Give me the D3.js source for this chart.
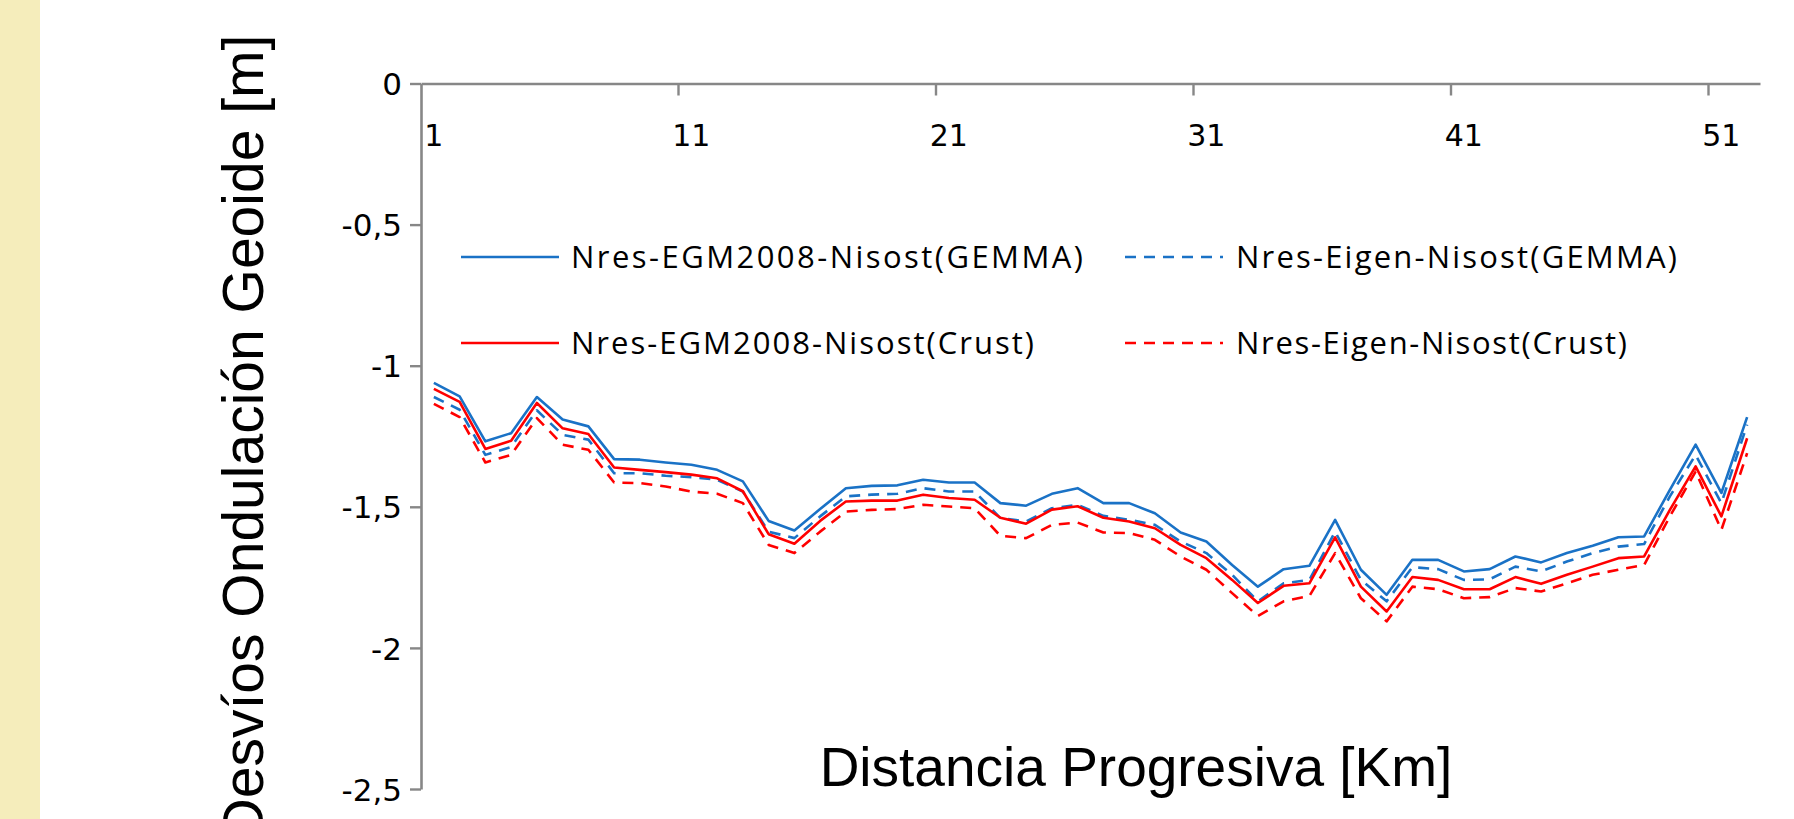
<!DOCTYPE html>
<html><head><meta charset="utf-8">
<script src="https://cdn.jsdelivr.net/npm/d3@7"></script>
<style>html,body{margin:0;padding:0;background:#fff;overflow:hidden}</style>
</head><body>
<svg id="chart" width="1794" height="819"></svg>
<script>
const categories = [1,2,3,4,5,6,7,8,9,10,11,12,13,14,15,16,17,18,19,20,21,22,23,24,25,26,27,28,29,30,31,32,33,34,35,36,37,38,39,40,41,42,43,44,45,46,47,48,49,50,51,52];
const xTickCats = [1,11,21,31,41,51];
const yTicks = [0,-0.5,-1,-1.5,-2,-2.5];
const yTickLabels = ["0","-0,5","-1","-1,5","-2","-2,5"];

const egmGemma = [-1.061,-1.109,-1.268,-1.239,-1.111,-1.191,-1.215,-1.331,-1.333,-1.343,
  -1.351,-1.369,-1.410,-1.550,-1.584,-1.508,-1.434,-1.426,-1.424,-1.404,
  -1.414,-1.414,-1.487,-1.496,-1.454,-1.434,-1.487,-1.487,-1.523,-1.591,
  -1.623,-1.706,-1.783,-1.721,-1.709,-1.546,-1.723,-1.812,-1.688,-1.688,
  -1.729,-1.721,-1.676,-1.697,-1.664,-1.638,-1.608,-1.605,-1.440,-1.280,
  -1.451,-1.182];
const eigenGemma = [-1.111,-1.156,-1.316,-1.288,-1.158,-1.245,-1.262,-1.381,-1.381,-1.390,
  -1.395,-1.404,-1.446,-1.588,-1.611,-1.534,-1.463,-1.457,-1.454,-1.434,
  -1.446,-1.446,-1.540,-1.552,-1.505,-1.493,-1.532,-1.546,-1.564,-1.623,
  -1.664,-1.741,-1.835,-1.771,-1.759,-1.588,-1.759,-1.835,-1.714,-1.721,
  -1.759,-1.757,-1.712,-1.729,-1.694,-1.664,-1.641,-1.632,-1.463,-1.316,
  -1.487,-1.209];
const egmCrust = [-1.082,-1.128,-1.295,-1.266,-1.132,-1.222,-1.242,-1.361,-1.369,-1.377,
  -1.386,-1.399,-1.445,-1.597,-1.631,-1.550,-1.481,-1.478,-1.478,-1.457,
  -1.469,-1.475,-1.539,-1.560,-1.510,-1.498,-1.539,-1.552,-1.576,-1.635,
  -1.682,-1.759,-1.841,-1.780,-1.771,-1.608,-1.783,-1.871,-1.749,-1.759,
  -1.792,-1.792,-1.749,-1.773,-1.741,-1.712,-1.682,-1.676,-1.511,-1.357,
  -1.534,-1.257];
const eigenCrust = [-1.135,-1.182,-1.343,-1.316,-1.186,-1.280,-1.298,-1.414,-1.416,-1.428,
  -1.446,-1.454,-1.487,-1.635,-1.664,-1.588,-1.517,-1.511,-1.508,-1.493,
  -1.499,-1.505,-1.603,-1.611,-1.564,-1.556,-1.591,-1.593,-1.617,-1.676,
  -1.723,-1.806,-1.887,-1.835,-1.816,-1.664,-1.824,-1.906,-1.783,-1.792,
  -1.824,-1.820,-1.788,-1.800,-1.771,-1.741,-1.723,-1.706,-1.534,-1.375,
  -1.582,-1.310];

const seriesNames = ["Nres-EGM2008-Nisost(GEMMA)","Nres-Eigen-Nisost(GEMMA)","Nres-EGM2008-Nisost(Crust)","Nres-Eigen-Nisost(Crust)"];
const seriesValues = [egmGemma, eigenGemma, egmCrust, eigenCrust];

const BLUE = "#1a72c6", RED = "#ff0000", AXIS = "#878787";
const styles = [
  {color: BLUE, dash: null},
  {color: BLUE, dash: "11,8"},
  {color: RED, dash: null},
  {color: RED, dash: "11,8"}
];

const svg = d3.select("#chart");
svg.append("rect").attr("x",0).attr("y",0).attr("width",40).attr("height",819).attr("fill","#f5edbb");

const x = d3.scaleBand().domain(categories).range([421,1760]).padding(0);
const y = d3.scaleLinear().domain([-2.5,0]).range([789,83.5]);
const cx = c => x(c) + x.bandwidth()/2;

// Y axis
const yAxis = svg.append("g").attr("transform","translate(421,0)")
  .call(d3.axisLeft(y).tickValues(yTicks).tickFormat((d,i)=>yTickLabels[i]).tickSize(11).tickSizeOuter(0).tickPadding(8));
yAxis.select(".domain").attr("stroke",AXIS).attr("stroke-width",2.6);
yAxis.selectAll(".tick line").attr("stroke",AXIS).attr("stroke-width",2.4);
yAxis.selectAll(".tick text").attr("font-family","'DejaVu Sans', Verdana, sans-serif").attr("font-size",31).attr("fill","#000").attr("dy","0.36em");

// X axis (at y = 0, top)
const xAxis = svg.append("g").attr("transform",`translate(0,${y(0)})`)
  .call(d3.axisBottom(x).tickValues(xTickCats).tickSize(0).tickSizeOuter(0));
xAxis.select(".domain").attr("stroke",AXIS).attr("stroke-width",2.6);
xAxis.selectAll(".tick text").attr("font-family","'DejaVu Sans', Verdana, sans-serif").attr("font-size",30).attr("fill","#000").attr("y",52).attr("dy","0.36em");
svg.append("g").selectAll("line").data(xTickCats.slice(1)).join("line")
  .attr("x1",d=>x(d)).attr("x2",d=>x(d)).attr("y1",y(0)).attr("y2",y(0)+12)
  .attr("stroke",AXIS).attr("stroke-width",2.4);

// Lines
const line = d3.line().x((d,i)=>cx(categories[i])).y(d=>y(d));
svg.append("g").selectAll("path").data(seriesValues).join("path")
  .attr("d", d=>line(d)).attr("fill","none")
  .attr("stroke",(d,i)=>styles[i].color)
  .attr("stroke-dasharray",(d,i)=>styles[i].dash)
  .attr("stroke-width",2.6).attr("stroke-linejoin","round");

// Legend
const legPos = [
  {lx:461, tx:571, y:257, tl:512},
  {lx:1125, tx:1236, y:257, tl:441},
  {lx:461, tx:571, y:343, tl:463},
  {lx:1125, tx:1236, y:343, tl:391}
];
const leg = svg.append("g");
seriesNames.forEach((n,i)=>{
  const p = legPos[i];
  leg.append("line").attr("x1",p.lx).attr("x2",p.lx+98).attr("y1",p.y).attr("y2",p.y)
    .attr("stroke",styles[i].color).attr("stroke-width",2.6).attr("stroke-dasharray",styles[i].dash);
  leg.append("text").attr("x",p.tx).attr("y",p.y).attr("dy","0.35em")
    .attr("font-family","'Open Sans', sans-serif").attr("font-size",31).attr("fill","#000")
    .attr("textLength",p.tl).attr("lengthAdjust","spacing").text(n);
});

// Axis titles
svg.append("text").attr("x",1136).attr("y",786).attr("text-anchor","middle")
  .attr("font-family","'Liberation Sans', Arial, sans-serif").attr("font-size",55).attr("fill","#000")
  .text("Distancia Progresiva [Km]");
svg.append("text").attr("transform","translate(263,437) rotate(-90)").attr("text-anchor","middle")
  .attr("font-family","'Liberation Sans', Arial, sans-serif").attr("font-size",57).attr("fill","#000")
  .text("Desvíos Ondulación Geoide [m]");
</script>
</body></html>
